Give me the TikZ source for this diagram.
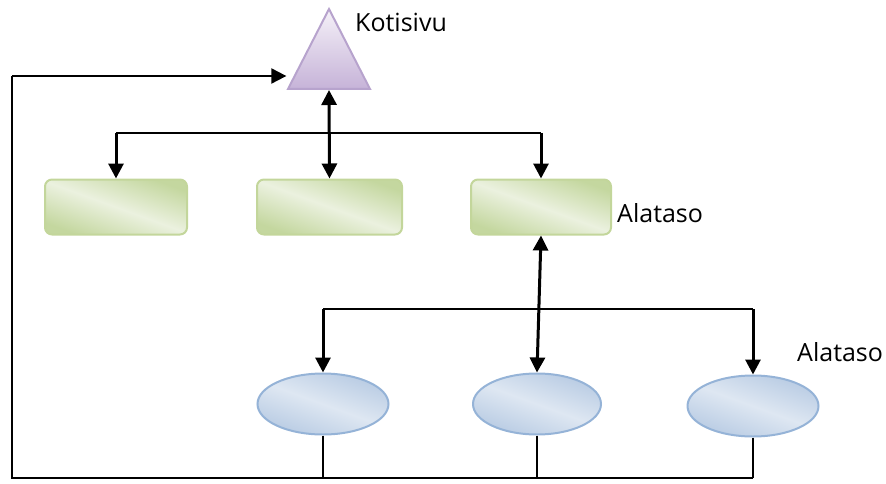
\documentclass[tikz,border=0pt]{standalone}
\usepackage{fontspec}
\setmainfont{Open Sans}
\usetikzlibrary{arrows.meta,shapes.geometric}
\definecolor{gdark}{HTML}{C4D79F}
\definecolor{glight}{HTML}{EBF1DF}
\definecolor{gborder}{HTML}{C3D69B}
\definecolor{bdark}{HTML}{B8CBE3}
\definecolor{blight}{HTML}{DEE7F2}
\definecolor{bborder}{HTML}{95B3D7}
\definecolor{pdark}{HTML}{C6B3D8}
\definecolor{plight}{HTML}{F5F1F8}
\definecolor{pborder}{HTML}{B7A3CD}
\tikzset{
  greenbox/.style={draw=gborder, line width=2pt, rounded corners=7pt,
    minimum width=142pt, minimum height=55pt, inner sep=0pt,
    top color=gdark, bottom color=gdark, middle color=glight, shading angle=-20},
  bluebox/.style={ellipse, draw=bborder, line width=2pt,
    minimum width=131pt, minimum height=61pt, inner sep=0pt,
    top color=bdark, bottom color=bdark, middle color=blight, shading angle=-20},
  homebox/.style={isosceles triangle, shape border rotate=90, isosceles triangle stretches,
    draw=pborder, line width=2pt, minimum width=82pt, minimum height=80pt, inner sep=0pt,
    top color=plight, bottom color=pdark},
  lbl/.style={font=\fontsize{25}{30}\selectfont, inner sep=0pt},
  conn/.style={line width=3pt},
  bus/.style={line width=2pt},
  hd/.style={Triangle[length=15pt,width=15pt]},
  tip/.style={conn, -{Triangle[length=15pt,width=15pt]}},
  tips/.style={conn, {Triangle[length=15pt,width=15pt]}-{Triangle[length=15pt,width=15pt]}},
  thin/.style={line width=2pt}
}
\begin{document}
\begin{tikzpicture}[x=1pt,y=-1pt]
\useasboundingbox (0,0) rectangle (886,484);
% nodes
\node[homebox, anchor=lower side] (koti) at (329,90) {};
\node[lbl, anchor=west] (kotilbl) at (355,22) {Kotisivu};
\node[greenbox] (r1) at (116,207) {};
\node[greenbox, minimum width=145pt] (r2) at (329.5,207) {};
\node[greenbox, minimum width=140pt] (r3) at (541,207) {};
\node[lbl, anchor=west] (lbl1) at (617,213) {Alataso};
\node[bluebox] (e1) at (323,404) {};
\node[bluebox, minimum width=128pt] (e2) at (537,404) {};
\node[bluebox] (e3) at (753,406) {};
\node[lbl, anchor=west] (lbl2) at (797,352) {Alataso};
% coordinates for buses
\coordinate (busA) at (329,133);
\coordinate (busB) at (537,309);
\coordinate (busC) at (537,478);
\coordinate (leftX) at (12,478);
% top connectors
\draw[tips] (koti.lower side) -- (r2.north);
\draw[bus] (busA -| r1.north) -- (busA -| r3.north);
\draw[tip] (busA -| r1.north) -- (r1.north);
\draw[tip] (busA -| r3.north) -- (r3.north);
% middle connectors
\draw[tips] (r3.south) -- (e2.north);
\draw[bus] (busB -| e1.north) -- (busB -| e3.north);
\draw[tip] (busB -| e1.north) -- (e1.north);
\draw[tip] (busB -| e3.north) -- (e3.north);
% bottom loop
\draw[thin] (e1.south) -- (busC -| e1.south);
\draw[thin] (e2.south) -- (busC -| e2.south);
\draw[thin] (e3.south) -- (busC -| e3.south);
\coordinate (kin) at (288,76);
\draw[thin] (busC -| e3.south) -- (leftX) -- (leftX |- kin);
\draw[bus, -{Triangle[length=15pt,width=15pt]}] (leftX |- kin) -- (kin -| koti.left corner);
\end{tikzpicture}
\end{document}
